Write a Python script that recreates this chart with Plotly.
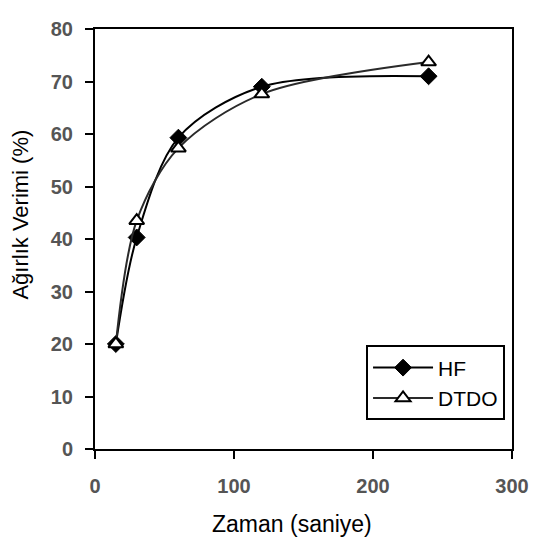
import plotly.graph_objects as go

time_s = [15, 30, 60, 120, 240]
hf = [20, 40.3, 59.3, 69, 71]
dtdo = [20, 43.5, 57.3, 67.6, 73.7]

x_ticks = [0, 100, 200, 300]
y_ticks = [0, 10, 20, 30, 40, 50, 60, 70, 80]

x_title = "Zaman (saniye)"
y_title = "Ağırlık Verimi (%)"

fig = go.Figure()
fig.add_trace(go.Scatter(
    x=time_s, y=hf, name="HF", mode="lines+markers",
    line=dict(color="black", width=2, shape="spline", smoothing=0.9),
    marker=dict(symbol="diamond", size=13, color="black", line=dict(color="black", width=1)),
))
fig.add_trace(go.Scatter(
    x=time_s, y=dtdo, name="DTDO", mode="lines+markers",
    line=dict(color="#2a2a2a", width=2, shape="spline", smoothing=0.9),
    marker=dict(symbol="triangle-up", size=13, color="white", line=dict(color="black", width=2)),
))

fig.update_layout(
    width=531, height=534,
    margin=dict(l=87, r=24, t=10, b=93),
    paper_bgcolor="white", plot_bgcolor="white",
    font=dict(family="Liberation Sans, Arial, sans-serif", color="black"),
    showlegend=True,
    legend=dict(
        x=0.65, y=0.2465, xanchor="left", yanchor="top",
        bordercolor="black", borderwidth=2, bgcolor="white",
        font=dict(size=21, color="black"),
        itemwidth=60, tracegroupgap=6,
    ),
    annotations=[
        dict(text=y_title, xref="paper", yref="paper", x=-0.1786, y=0.557,
             xanchor="center", yanchor="middle", textangle=-90, showarrow=False,
             font=dict(size=22, color="black")),
        dict(text=x_title, xref="paper", yref="paper", x=0.473, y=-0.1787,
             xanchor="center", yanchor="middle", showarrow=False,
             font=dict(size=23, color="black")),
    ],
)
fig.update_xaxes(
    range=[0, 300], tickvals=x_ticks, ticks="outside", ticklen=8, tickwidth=2, tickcolor="black",
    showline=True, linecolor="black", linewidth=2, mirror=True, showgrid=False, zeroline=False,
    tickfont=dict(size=20, color="#555555", weight="bold"), ticklabelstandoff=10,
    ticklabeloverflow="allow",
)
fig.update_yaxes(
    range=[0, 80], tickvals=y_ticks, ticks="outside", ticklen=8, tickwidth=2, tickcolor="black",
    showline=True, linecolor="black", linewidth=2, mirror=True, showgrid=False, zeroline=False,
    tickfont=dict(size=20, color="#555555", weight="bold"), ticklabelstandoff=8,
    ticklabeloverflow="allow",
)

fig.write_html("out.html")
